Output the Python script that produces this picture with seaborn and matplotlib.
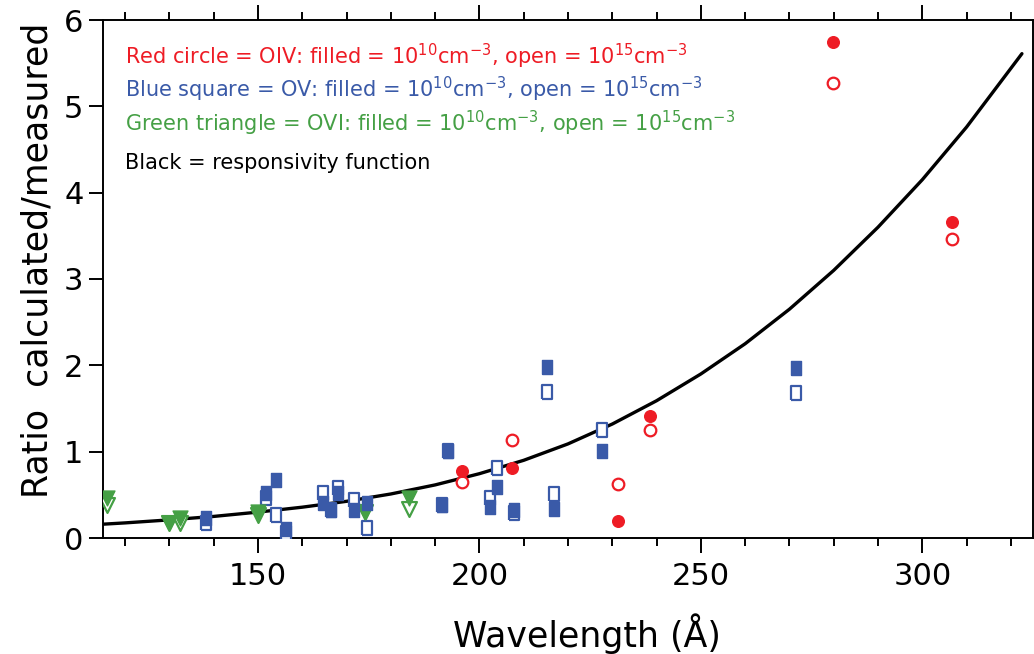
import numpy as np
import pandas as pd
import matplotlib
matplotlib.use("Agg")
import matplotlib.pyplot as plt
import seaborn as sns
from matplotlib.ticker import MultipleLocator

# ---------------- data ----------------
# OIV (red circles)
oiv_wl = [196.0, 207.3, 231.3, 238.5, 279.9, 306.6]
oiv_filled = [0.78, 0.81, 0.20, 1.41, 5.75, 3.66]
oiv_open = [0.65, 1.14, 0.63, 1.25, 5.27, 3.46]

# OV (blue squares)
ov_wl = [138.2, 151.7, 154.0, 156.3, 164.7, 166.4, 168.1, 171.7, 174.5,
         191.6, 193.0, 202.4, 204.0, 207.8, 215.2, 216.9, 227.6, 271.4]
ov_filled = [0.23, 0.52, 0.67, 0.11, 0.40, 0.32, 0.52, 0.32, 0.40,
             0.38, 1.01, 0.36, 0.59, 0.32, 1.98, 0.34, 1.01, 1.97]
ov_open = [0.17, 0.46, 0.27, 0.055, 0.52, 0.32, 0.58, 0.44, 0.12,
           0.38, 1.01, 0.46, 0.81, 0.29, 1.69, 0.51, 1.25, 1.68]

# OVI (green triangles)
ovi_wl = [115.8, 129.9, 132.4, 150.0, 174.1, 184.1]
ovi_filled = [0.46, 0.17, 0.23, 0.305, 0.305, 0.46]
ovi_open = [0.38, 0.17, 0.17, 0.27, 0.305, 0.34]

# responsivity function (black curve)
resp_wl = [115, 120, 130, 140, 150, 160, 170, 180, 190, 200, 210, 220,
           230, 240, 250, 260, 270, 280, 290, 300, 310, 320, 322.5]
resp_val = [0.16, 0.175, 0.21, 0.25, 0.30, 0.357, 0.425, 0.51, 0.615, 0.745,
            0.90, 1.09, 1.32, 1.59, 1.90, 2.25, 2.65, 3.10, 3.60, 4.15,
            4.76, 5.44, 5.61]

legend_lines = [
    r"Red circle = OIV: filled = 10$^{10}$cm$^{-3}$, open = 10$^{15}$cm$^{-3}$",
    r"Blue square = OV: filled = 10$^{10}$cm$^{-3}$, open = 10$^{15}$cm$^{-3}$",
    r"Green triangle = OVI: filled = 10$^{10}$cm$^{-3}$, open = 10$^{15}$cm$^{-3}$",
    "Black = responsivity function",
]

RED = "#ee1c25"
BLUE = "#3a5aa8"
GREEN = "#45a045"
legend_colors = [RED, BLUE, GREEN, "black"]

# ---------------- plotting ----------------
sns.set_theme(style="ticks")
plt.rcParams["font.family"] = ["DejaVu Sans"]
plt.rcParams["mathtext.default"] = "regular"

fig = plt.figure(figsize=(10.34, 6.54), dpi=100)
ax = fig.add_axes([103 / 1034, 116 / 654, 930 / 1034, 518 / 654])

rect = [(-0.4, -0.5), (0.4, -0.5), (0.4, 0.5), (-0.4, 0.5), (-0.4, -0.5)]

df_resp = pd.DataFrame({"wl": resp_wl, "r": resp_val})
sns.lineplot(data=df_resp, x="wl", y="r", color="black", lw=2.4, ax=ax,
             zorder=2)
ax.lines[-1].set_solid_joinstyle("round")

def pair(wl, filled, open_, color, marker, size):
    d_open = pd.DataFrame({"wl": wl, "r": open_})
    d_fill = pd.DataFrame({"wl": wl, "r": filled})
    sns.scatterplot(data=d_open, x="wl", y="r", marker=marker, s=size,
                    facecolor="white", edgecolor=color, linewidth=1.6,
                    ax=ax, zorder=3)
    sns.scatterplot(data=d_fill, x="wl", y="r", marker=marker, s=size,
                    color=color, edgecolor=color, linewidth=1.0,
                    ax=ax, zorder=4)

pair(ovi_wl, ovi_filled, ovi_open, GREEN, "v", 115)
pair(ov_wl, ov_filled, ov_open, BLUE, rect, 95)
pair(oiv_wl, oiv_filled, oiv_open, RED, "o", 70)

ax.set_xlim(115, 325)
ax.set_ylim(0, 6)
ax.xaxis.set_major_locator(MultipleLocator(50))
ax.xaxis.set_minor_locator(MultipleLocator(10))
ax.yaxis.set_major_locator(MultipleLocator(1))

ax.tick_params(axis="x", which="major", direction="out", length=11,
               width=1.4, labelsize=22, top=True, bottom=True, pad=6,
               colors="black")
ax.tick_params(axis="x", which="minor", direction="out", length=6,
               width=1.4, top=True, bottom=True, colors="black")
ax.tick_params(axis="y", which="major", direction="out", length=10,
               width=1.4, labelsize=22, left=True, right=False, pad=4,
               colors="black")
for s in ax.spines.values():
    s.set_linewidth(1.4)
    s.set_color("black")

ax.set_xlabel("Wavelength (Å)", fontsize=25, color="black")
ax.set_ylabel("Ratio  calculated/measured", fontsize=25, color="black")
ax.xaxis.set_label_coords(0.52, -0.145)
ax.yaxis.set_label_coords(-0.052, 0.537)

ys = [0.915, 0.851, 0.786, 0.713]
for txt, col, yy in zip(legend_lines, legend_colors, ys):
    ax.text(0.0237, yy, txt, color=col, fontsize=15,
            transform=ax.transAxes, va="baseline", ha="left")

fig.savefig("out.png", dpi=100)
